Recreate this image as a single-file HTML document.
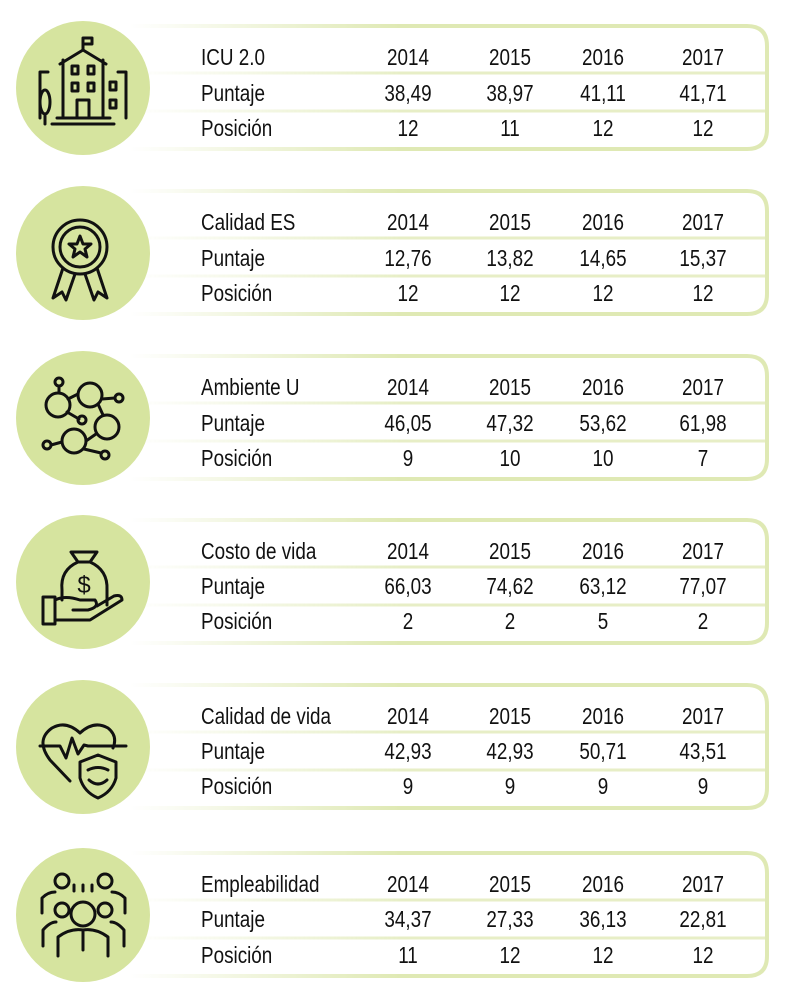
<!DOCTYPE html>
<html><head><meta charset="utf-8"><style>
body{margin:0;width:800px;height:1006px;background:#fff;position:relative;overflow:hidden;font-family:"Liberation Sans",sans-serif;}
.b{position:absolute;left:0;width:800px;height:130px}
.t{position:absolute;font-size:23px;color:#111;line-height:1;white-space:nowrap;transform:scaleX(.82)}
.l{left:201px;transform-origin:0 0}
.c{width:90px;text-align:center;transform-origin:50% 0}
svg{position:absolute;left:0;top:0}
</style></head><body>
<svg width="800" height="1006">
<defs>
<linearGradient id="g" x1="130" x2="400" gradientUnits="userSpaceOnUse"><stop offset="0" stop-color="#dfe9b4" stop-opacity="0"/><stop offset="1" stop-color="#dfe9b4"/></linearGradient>
<g id="box">
<path d="M130 0 H747 Q767 0 767 20 V103 Q767 123 747 123 H130" fill="none" stroke="url(#g)" stroke-width="4"/>
<line x1="130" y1="47" x2="767" y2="47" stroke="url(#g)" stroke-width="3" opacity=".75"/>
<line x1="130" y1="85" x2="767" y2="85" stroke="url(#g)" stroke-width="3" opacity=".75"/>
<circle cx="83" cy="62" r="67" fill="#d6e49f"/>
</g>
</defs>
<use href="#box" y="26"/><use href="#box" y="191"/><use href="#box" y="356"/><use href="#box" y="520"/><use href="#box" y="685"/><use href="#box" y="853"/>
<g fill="none" stroke="#111" stroke-width="3" stroke-linecap="round" stroke-linejoin="round">
<path d="M60 64 L83 50 L106 64 M63 60 V118 M103 60 V118 M83 50 V38 H92 V44 H85 M40 72 V118 M126 72 V118 M40 72 H48 M126 72 H118 M57 118 H110 M52 124 H114 M77 118 V100 H89 V118"/>
<rect x="72" y="66" width="6" height="8"/><rect x="88" y="66" width="6" height="8"/><rect x="72" y="83" width="6" height="8"/><rect x="88" y="83" width="6" height="8"/><rect x="110" y="82" width="6" height="8"/><rect x="110" y="100" width="6" height="8"/>
<ellipse cx="45" cy="102" rx="5" ry="12"/><path d="M45 114 V124"/>
<circle cx="80" cy="247" r="27"/><circle cx="80" cy="247" r="20"/>
<path d="M80 236 L83 244 L91 244 L85 249 L87 257 L80 252 L73 257 L75 249 L69 244 L77 244 Z"/>
<path d="M63 268 L53 298 L62 292 L66 300 L75 274 M97 268 L107 298 L98 292 L94 300 L85 274"/>
<circle cx="90" cy="395" r="12"/><circle cx="58" cy="405" r="12"/><circle cx="107" cy="427" r="12"/><circle cx="74" cy="441" r="12"/>
<circle cx="59" cy="382" r="4"/><circle cx="82" cy="420" r="4"/><circle cx="119" cy="398" r="4"/><circle cx="47" cy="445" r="4"/><circle cx="105" cy="455" r="4"/>
<path d="M59 386 V393 M68 399 L78 394 M67 412 L79 419 M98 404 L103 415 M86 441 L96 434 M102 399 L115 398 M51 445 L62 442 M84 449 L101 453"/>
<path d="M71 552 H97 L90 562 H78 Z M78 562 Q60 570 62 590 V600 M90 562 Q108 570 107 590 V605 M43 597 H55 V624 H43 Z M55 600 Q65 595 80 600 H95 Q100 607 88 610 H73 M55 620 H90 L122 600 Q122 594 114 596 L97 606"/>
<text x="84" y="593" font-size="24" fill="#111" stroke="none" text-anchor="middle" font-family="Liberation Sans">$</text>
<path d="M70 781 L50 760 Q35 740 52 728 Q66 720 80 733 Q94 720 108 728 Q118 736 113 748 M40 746 H60 L66 758 L72 738 L78 754 L84 745 L88 746 H126"/>
<path d="M80 762 L98 755 L116 762 V778 Q112 792 98 798 Q84 792 80 778 Z M88 770 Q98 765 108 770 M89 780 Q98 788 107 780"/>
<circle cx="62" cy="881" r="7"/><circle cx="105" cy="881" r="7"/><circle cx="62" cy="910" r="7"/><circle cx="105" cy="910" r="7"/><circle cx="83" cy="914" r="12"/>
<path d="M42 913 V898 Q48 892 55 892 M125 913 V898 Q119 892 112 892 M43 946 V930 Q50 922 56 922 M124 946 V930 Q117 922 111 922 M58 956 V937 Q70 928 83 930 Q96 928 108 937 V956 M74 885 V891 M83 885 V891 M92 885 V891 M83 932 V950"/>
</g>
</svg>
<div class="b" style="top:26px">
<div class="t l" style="top:20px">ICU 2.0</div><div class="t c" style="left:363px;top:20px">2014</div><div class="t c" style="left:465px;top:20px">2015</div><div class="t c" style="left:558px;top:20px">2016</div><div class="t c" style="left:658px;top:20px">2017</div>
<div class="t l" style="top:56px">Puntaje</div><div class="t c" style="left:363px;top:56px">38,49</div><div class="t c" style="left:465px;top:56px">38,97</div><div class="t c" style="left:558px;top:56px">41,11</div><div class="t c" style="left:658px;top:56px">41,71</div>
<div class="t l" style="top:91px">Posición</div><div class="t c" style="left:363px;top:91px">12</div><div class="t c" style="left:465px;top:91px">11</div><div class="t c" style="left:558px;top:91px">12</div><div class="t c" style="left:658px;top:91px">12</div>
</div>
<div class="b" style="top:191px">
<div class="t l" style="top:20px">Calidad ES</div><div class="t c" style="left:363px;top:20px">2014</div><div class="t c" style="left:465px;top:20px">2015</div><div class="t c" style="left:558px;top:20px">2016</div><div class="t c" style="left:658px;top:20px">2017</div>
<div class="t l" style="top:56px">Puntaje</div><div class="t c" style="left:363px;top:56px">12,76</div><div class="t c" style="left:465px;top:56px">13,82</div><div class="t c" style="left:558px;top:56px">14,65</div><div class="t c" style="left:658px;top:56px">15,37</div>
<div class="t l" style="top:91px">Posición</div><div class="t c" style="left:363px;top:91px">12</div><div class="t c" style="left:465px;top:91px">12</div><div class="t c" style="left:558px;top:91px">12</div><div class="t c" style="left:658px;top:91px">12</div>
</div>
<div class="b" style="top:356px">
<div class="t l" style="top:20px">Ambiente U</div><div class="t c" style="left:363px;top:20px">2014</div><div class="t c" style="left:465px;top:20px">2015</div><div class="t c" style="left:558px;top:20px">2016</div><div class="t c" style="left:658px;top:20px">2017</div>
<div class="t l" style="top:56px">Puntaje</div><div class="t c" style="left:363px;top:56px">46,05</div><div class="t c" style="left:465px;top:56px">47,32</div><div class="t c" style="left:558px;top:56px">53,62</div><div class="t c" style="left:658px;top:56px">61,98</div>
<div class="t l" style="top:91px">Posición</div><div class="t c" style="left:363px;top:91px">9</div><div class="t c" style="left:465px;top:91px">10</div><div class="t c" style="left:558px;top:91px">10</div><div class="t c" style="left:658px;top:91px">7</div>
</div>
<div class="b" style="top:520px">
<div class="t l" style="top:20px">Costo de vida</div><div class="t c" style="left:363px;top:20px">2014</div><div class="t c" style="left:465px;top:20px">2015</div><div class="t c" style="left:558px;top:20px">2016</div><div class="t c" style="left:658px;top:20px">2017</div>
<div class="t l" style="top:55px">Puntaje</div><div class="t c" style="left:363px;top:55px">66,03</div><div class="t c" style="left:465px;top:55px">74,62</div><div class="t c" style="left:558px;top:55px">63,12</div><div class="t c" style="left:658px;top:55px">77,07</div>
<div class="t l" style="top:90px">Posición</div><div class="t c" style="left:363px;top:90px">2</div><div class="t c" style="left:465px;top:90px">2</div><div class="t c" style="left:558px;top:90px">5</div><div class="t c" style="left:658px;top:90px">2</div>
</div>
<div class="b" style="top:685px">
<div class="t l" style="top:20px">Calidad de vida</div><div class="t c" style="left:363px;top:20px">2014</div><div class="t c" style="left:465px;top:20px">2015</div><div class="t c" style="left:558px;top:20px">2016</div><div class="t c" style="left:658px;top:20px">2017</div>
<div class="t l" style="top:55px">Puntaje</div><div class="t c" style="left:363px;top:55px">42,93</div><div class="t c" style="left:465px;top:55px">42,93</div><div class="t c" style="left:558px;top:55px">50,71</div><div class="t c" style="left:658px;top:55px">43,51</div>
<div class="t l" style="top:90px">Posición</div><div class="t c" style="left:363px;top:90px">9</div><div class="t c" style="left:465px;top:90px">9</div><div class="t c" style="left:558px;top:90px">9</div><div class="t c" style="left:658px;top:90px">9</div>
</div>
<div class="b" style="top:853px">
<div class="t l" style="top:20px">Empleabilidad</div><div class="t c" style="left:363px;top:20px">2014</div><div class="t c" style="left:465px;top:20px">2015</div><div class="t c" style="left:558px;top:20px">2016</div><div class="t c" style="left:658px;top:20px">2017</div>
<div class="t l" style="top:55px">Puntaje</div><div class="t c" style="left:363px;top:55px">34,37</div><div class="t c" style="left:465px;top:55px">27,33</div><div class="t c" style="left:558px;top:55px">36,13</div><div class="t c" style="left:658px;top:55px">22,81</div>
<div class="t l" style="top:91px">Posición</div><div class="t c" style="left:363px;top:91px">11</div><div class="t c" style="left:465px;top:91px">12</div><div class="t c" style="left:558px;top:91px">12</div><div class="t c" style="left:658px;top:91px">12</div>
</div>
</body></html>
